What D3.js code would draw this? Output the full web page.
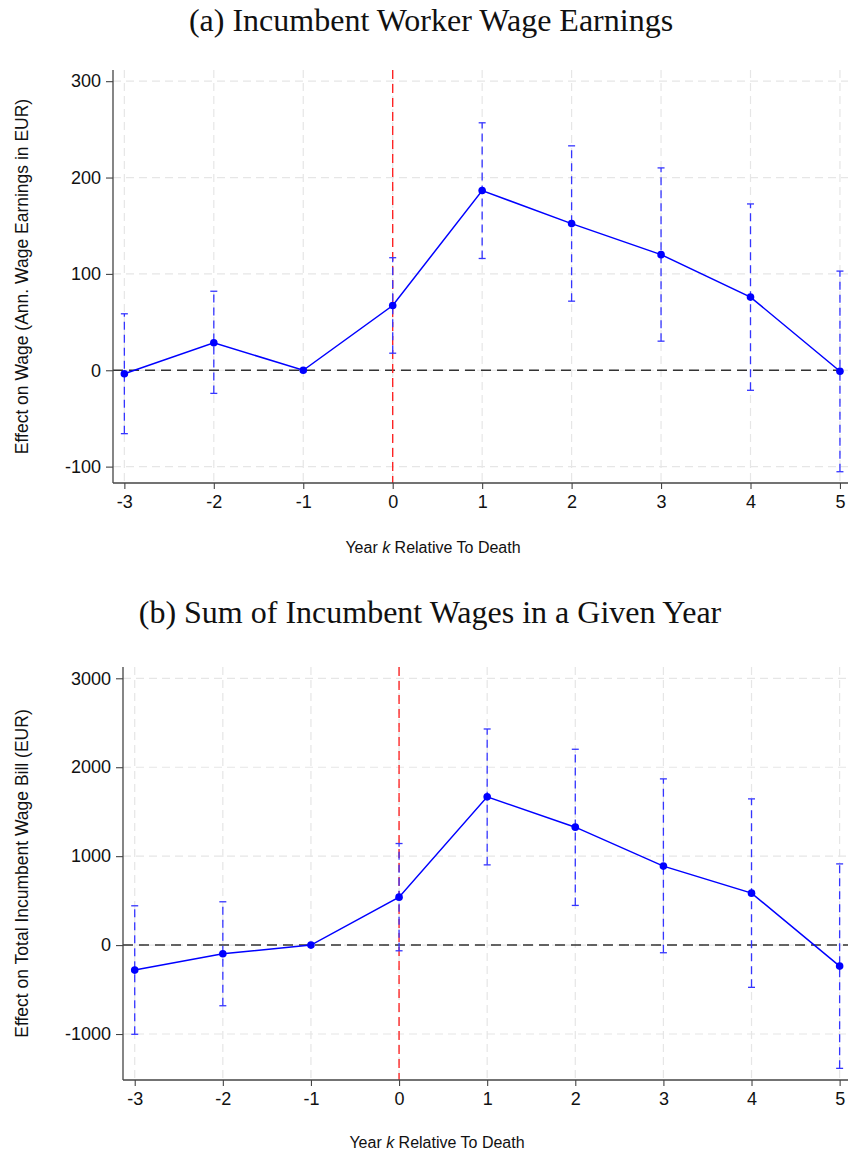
<!DOCTYPE html>
<html>
<head>
<meta charset="utf-8">
<script src="https://cdn.jsdelivr.net/npm/d3@7"></script>
<style>
  body { margin: 0; background: #fff; }
  svg { display: block; }
</style>
</head>
<body>
<div id="viz"></div>
<script>
// event-study estimates
const years = [-3, -2, -1, 0, 1, 2, 3, 4, 5];

const wageEst = [-3.7, 28.5, 0, 67.2, 186.5, 152.2, 120, 75.9, -1];
const wageLo  = [-65.8, -24, null, 17.7, 116, 71.7, 30.2, -20.8, -105.3];
const wageHi  = [58.6, 82, null, 116.8, 256.8, 232.9, 210, 172.6, 102.9];

const billEst = [-281, -97, 0, 539, 1667, 1326, 888, 584, -236];
const billLo  = [-1003, -682, null, -64, 902, 446, -86, -475, -1386];
const billHi  = [442, 487, null, 1142, 2430, 2202, 1869, 1644, 913];

const wageTicks = [-100, 0, 100, 200, 300];
const billTicks = [-1000, 0, 1000, 2000, 3000];

const W = 848, H = 1154;
const sans = "'Liberation Sans', Arial, sans-serif";
const svg = d3.select("#viz").append("svg")
    .attr("width", W)
    .attr("height", H);

function drawPanel(cfg) {
    const x = d3.scaleLinear().domain(cfg.xDomain).range([cfg.left, cfg.right]);
    const y = d3.scaleLinear().domain(cfg.yDomain).range([cfg.bottom, cfg.top]);
    const g = svg.append("g");

    // title
    g.append("text")
        .attr("x", cfg.titleX)
        .attr("y", cfg.titleY)
        .attr("text-anchor", "middle")
        .attr("font-family", "'Liberation Serif', 'DejaVu Serif', serif")
        .attr("font-size", "32px")
        .attr("fill", "#111")
        .text(cfg.title);

    // grid
    g.selectAll(".hgrid").data(cfg.yTicks).enter().append("line")
        .attr("x1", cfg.left).attr("x2", cfg.right)
        .attr("y1", d => y(d)).attr("y2", d => y(d))
        .attr("stroke", "#e6e6e6").attr("stroke-width", 1.2)
        .attr("stroke-dasharray", "8,5");
    g.selectAll(".vgrid").data(years).enter().append("line")
        .attr("x1", d => x(d)).attr("x2", d => x(d))
        .attr("y1", cfg.top).attr("y2", cfg.bottom)
        .attr("stroke", "#e6e6e6").attr("stroke-width", 1.2)
        .attr("stroke-dasharray", "8,5");

    // zero line and event line
    g.append("line")
        .attr("x1", cfg.left).attr("x2", cfg.right)
        .attr("y1", y(0)).attr("y2", y(0))
        .attr("stroke", "#333").attr("stroke-width", 1.5)
        .attr("stroke-dasharray", "10,6");
    g.append("line")
        .attr("x1", x(0)).attr("x2", x(0))
        .attr("y1", cfg.top).attr("y2", cfg.bottom)
        .attr("stroke", "#ff1a1a").attr("stroke-width", 1.3)
        .attr("stroke-dasharray", "9,5");

    // confidence intervals
    const ci = years.map((k, i) => ({ k, lo: cfg.lo[i], hi: cfg.hi[i] }))
        .filter(d => d.lo !== null);
    g.selectAll(".ci").data(ci).enter().append("line")
        .attr("x1", d => x(d.k)).attr("x2", d => x(d.k))
        .attr("y1", d => y(d.lo)).attr("y2", d => y(d.hi))
        .attr("stroke", "#3535ff").attr("stroke-width", 1.3)
        .attr("stroke-dasharray", "8,5");
    ["lo", "hi"].forEach(key => {
        g.selectAll(".cap-" + key).data(ci).enter().append("line")
            .attr("x1", d => x(d.k) - 3.5).attr("x2", d => x(d.k) + 3.5)
            .attr("y1", d => y(d[key])).attr("y2", d => y(d[key]))
            .attr("stroke", "#3535ff").attr("stroke-width", 1.3);
    });

    // point estimates
    const pts = years.map((k, i) => ({ k, v: cfg.est[i] }));
    g.append("path")
        .datum(pts)
        .attr("fill", "none")
        .attr("stroke", "#0000ff")
        .attr("stroke-width", 1.5)
        .attr("d", d3.line().x(d => x(d.k)).y(d => y(d.v)));
    g.selectAll(".pt").data(pts).enter().append("circle")
        .attr("cx", d => x(d.k)).attr("cy", d => y(d.v))
        .attr("r", 3.8)
        .attr("fill", "#0000ff");

    // axes (plain hyphen for negatives, as in the original)
    const fmt = d => String(d);
    const yAxis = g.append("g")
        .attr("transform", `translate(${cfg.left},0)`)
        .call(d3.axisLeft(y).tickValues(cfg.yTicks).tickSize(7).tickPadding(5).tickFormat(fmt));
    const xAxis = g.append("g")
        .attr("transform", `translate(0,${cfg.bottom})`)
        .call(d3.axisBottom(x).tickValues(years).tickSize(6).tickPadding(6).tickFormat(fmt));
    [xAxis, yAxis].forEach(a => {
        a.select(".domain").remove();
        a.selectAll(".tick line").attr("stroke", "#444").attr("stroke-width", 1.1);
        a.selectAll(".tick text")
            .attr("font-family", sans)
            .attr("font-size", "18px")
            .attr("fill", "#111");
    });
    g.append("line")
        .attr("x1", cfg.left).attr("x2", cfg.left)
        .attr("y1", cfg.top).attr("y2", cfg.bottom)
        .attr("stroke", "#444").attr("stroke-width", 1.3);
    g.append("line")
        .attr("x1", cfg.left).attr("x2", cfg.right)
        .attr("y1", cfg.bottom).attr("y2", cfg.bottom)
        .attr("stroke", "#444").attr("stroke-width", 1.3);

    // axis titles
    g.append("text")
        .attr("transform", `translate(${cfg.yTitleX},${(cfg.top + cfg.bottom) / 2}) rotate(-90)`)
        .attr("text-anchor", "middle")
        .attr("font-family", sans)
        .attr("font-size", "17.5px")
        .attr("fill", "#111")
        .text(cfg.yTitle);

    const xt = g.append("text")
        .attr("x", cfg.xTitleX)
        .attr("y", cfg.xTitleY)
        .attr("text-anchor", "middle")
        .attr("font-family", sans)
        .attr("font-size", "16px")
        .attr("fill", "#111");
    xt.append("tspan").text("Year ");
    xt.append("tspan").attr("font-style", "italic").text("k");
    xt.append("tspan").text(" Relative To Death");
}

drawPanel({
    title: "(a) Incumbent Worker Wage Earnings",
    titleX: 431, titleY: 31,
    left: 113, right: 848, top: 70, bottom: 483,
    xDomain: [-3.127, 5.09],
    yDomain: [-117, 311.6],
    yTicks: wageTicks,
    est: wageEst, lo: wageLo, hi: wageHi,
    yTitle: "Effect on Wage (Ann. Wage Earnings in EUR)",
    yTitleX: 28,
    xTitleX: 433, xTitleY: 553
});

drawPanel({
    title: "(b) Sum of Incumbent Wages in a Given Year",
    titleX: 430, titleY: 623,
    left: 123, right: 848, top: 667, bottom: 1080,
    xDomain: [-3.133, 5.095],
    yDomain: [-1517, 3127],
    yTicks: billTicks,
    est: billEst, lo: billLo, hi: billHi,
    yTitle: "Effect on Total Incumbent Wage Bill (EUR)",
    yTitleX: 28,
    xTitleX: 437, xTitleY: 1148
});
</script>
</body>
</html>
